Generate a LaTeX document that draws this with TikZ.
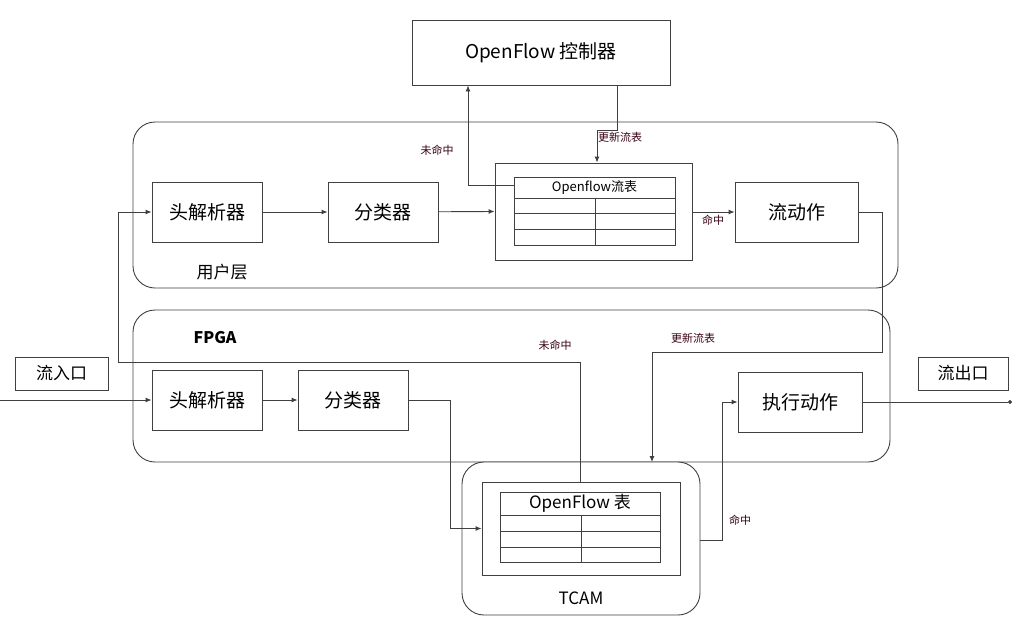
\documentclass[tikz,border=0pt]{standalone}
\usepackage{fontspec}
\setmainfont{Noto Sans CJK SC}
\usetikzlibrary{arrows.meta}
\begin{document}
\begin{tikzpicture}[x=1pt,y=-1pt,
  line/.style={draw=black!75,line width=0.9pt},
  box/.style={line, rectangle, inner sep=0pt, font=\fontsize{19}{19}\selectfont},
  grp/.style={line, rounded corners=22pt},
  arr/.style={line,-{Latex[length=6pt,width=5pt]}},
  lab/.style={font=\fontsize{11}{11}\selectfont, text=black!70!purple}]
\useasboundingbox (0,0) rectangle (1024,632);
% groups
\draw[grp] (133,122) rectangle (898,288);
\draw[grp] (133,310) rectangle (890,462);
\draw[grp, fill=white] (462,462) rectangle (700,615);
\node[font=\fontsize{17}{17}\selectfont] at (222,272) {用户层};
\node[font=\bfseries\fontsize{16}{16}\selectfont] at (215,338) {FPGA};
\node[font=\fontsize{17}{17}\selectfont] at (581,598) {TCAM};
% boxes
\node[box, minimum width=258pt, minimum height=65pt] (ctl) at (541,52.5) {OpenFlow 控制器};
\node[box, minimum width=110pt, minimum height=60pt] (up) at (207,212) {头解析器};
\node[box, minimum width=110pt, minimum height=60pt] (uc) at (383,212) {分类器};
\node[box, minimum width=197pt, minimum height=97pt] (uft) at (593.5,211.5) {};
\node[box, minimum width=123pt, minimum height=60pt] (ua) at (796.5,212) {流动作};
\node[box, minimum width=110pt, minimum height=60pt] (fp) at (207,400) {头解析器};
\node[box, minimum width=110pt, minimum height=60pt] (fc) at (353,400) {分类器};
\node[box, minimum width=124pt, minimum height=60pt] (fa) at (800,402) {执行动作};
\node[box, minimum width=93pt, minimum height=33pt, font=\fontsize{17}{17}\selectfont] (in) at (61.5,373.5) {流入口};
\node[box, minimum width=90pt, minimum height=33pt, font=\fontsize{17}{17}\selectfont] (out) at (963,373.5) {流出口};
\node[box, minimum width=198pt, minimum height=93pt] (tc) at (581,528.5) {};
% user table
\draw[line] (514,177) rectangle (675,245);
\draw[line] (514,198) -- (675,198) (514,213) -- (675,213) (514,229) -- (675,229) (595,198) -- (595,245);
\node[font=\fontsize{13}{13}\selectfont] (uth) at (594.5,187.5) {Openflow流表};
% tcam table
\draw[line] (500,492) rectangle (660,562);
\draw[line] (500,515) -- (660,515) (500,531) -- (660,531) (500,547) -- (660,547) (581,515) -- (581,562);
\node[font=\fontsize{17}{17}\selectfont] (tth) at (580,503.5) {OpenFlow 表};
% connectors
\coordinate (s0) at (0,400);
\coordinate (e0) at (1012,402);
\draw[arr] (s0) -- (fp.west);
\draw[arr] (fp) -- (fc);
\draw[arr] (fc.east) -- (450,400) |- (tc.west);
\draw[arr] (580,482) |- (118,362) |- (up.west);
\draw[arr] (up) -- (uc);
\draw[arr] (uc) -- (uft.west);
\draw[arr] (514,185) -| (ctl.south -| 468,0);
\draw[arr] (ctl.south -| 617,0) |- (597,130) -- (uft.north -| 597,0);
\draw[arr] (uft.east |- 0,212) -- (ua.west);
\draw[arr] (ua.east) -- (882,212) |- (652,352) -- (652,462);
\draw[arr] (700,540) -- (722,540) |- (fa.west);
\draw[line,-{Circle[length=4pt]}] (fa.east) -- (e0);
% labels
\node[lab] at (437,150) {未命中};
\node[lab] at (620,137) {更新流表};
\node[lab] at (713,220) {命中};
\node[lab] at (555,345) {未命中};
\node[lab] at (693,338) {更新流表};
\node[lab] at (740,520) {命中};
\end{tikzpicture}
\end{document}
